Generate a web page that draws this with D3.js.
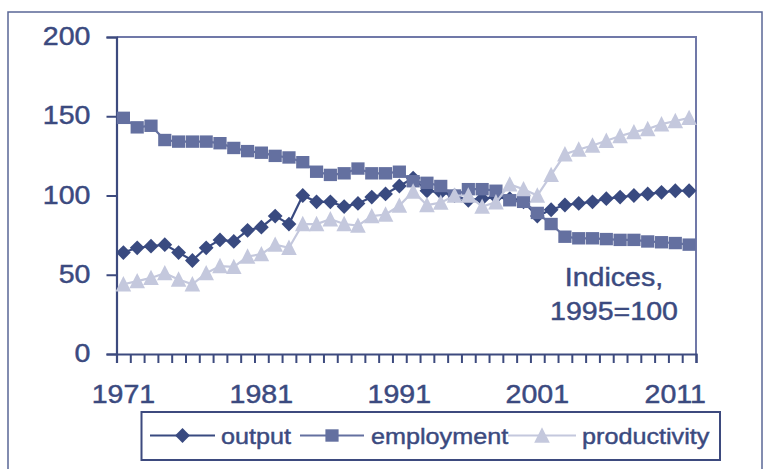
<!DOCTYPE html>
<html>
<head>
<meta charset="utf-8">
<script src="https://cdn.jsdelivr.net/npm/d3@7"></script>
<style>
  html, body { margin: 0; padding: 0; background: #fff; }
  svg { display: block; }
  text { font-family: "Liberation Sans", Arial, sans-serif; fill: #3b4a7f; stroke: #3b4a7f; stroke-width: 0.45px; }
</style>
</head>
<body>
<svg id="chart"></svg>
<script>
const width = 765;
const height = 469;

// 1971..2012, indices 1995=100
const years = d3.range(1971, 2013);
const output = [64, 67, 68, 69, 64, 59, 67, 72, 71, 78, 80, 87, 82, 100, 96, 96, 93, 95, 99, 101,
  106, 111, 103, 102, 100, 97, 98, 99, 98, 96, 87, 91, 94, 95, 96, 98, 99, 100, 101, 102, 103, 103];
const employment = [149, 143, 144, 135, 134, 134, 134, 133, 130, 128, 127, 125, 124, 121, 115, 113, 114, 117, 114, 114,
  115, 109, 108, 106, 100, 104, 104, 103, 97, 96, 89, 82, 74, 73, 73, 72.5, 72, 72, 71, 70.5, 70, 69];
const productivity = [44, 46, 48, 51, 47, 44, 51, 55.5, 55, 61.5, 63, 69, 67, 82, 82, 85, 82, 81, 87, 88,
  93.6, 102.5, 94, 95.5, 100, 100, 93, 95.7, 107, 104, 100, 113, 126, 129, 131.5, 134.5, 137.5, 140, 142, 145, 147, 149];
const yearLabels = [1971, 1981, 1991, 2001, 2011];
const yTicks = [0, 50, 100, 150, 200];

const series = [
  { name: 'output', values: output, color: '#394a80', shape: 'diamond' },
  { name: 'employment', values: employment, color: '#6470a0', shape: 'square' },
  { name: 'productivity', values: productivity, color: '#c4c8dd', shape: 'triangle' }
];

const plot = { left: 116.5, right: 696, top: 37, bottom: 354 };
const axisColor = '#3d4a7e';
const stretch = 1.12; // text in the source is a little wide

const svg = d3.select('#chart')
  .attr('width', width)
  .attr('height', height);

// outer frame
svg.append('rect')
  .attr('x', 8).attr('y', 12)
  .attr('width', 754).attr('height', 480)
  .attr('fill', 'none')
  .attr('stroke', '#5a6796')
  .attr('stroke-width', 1.5);

const x = d3.scaleLinear()
  .domain([years[0] - 0.5, years[years.length - 1] + 0.5])
  .range([plot.left, plot.right]);

const y = d3.scaleLinear()
  .domain([0, 200])
  .range([plot.bottom, plot.top]);

// top + right border of the plot area
svg.append('path')
  .attr('d', `M${plot.left},${y(200)}H${x.range()[1]}V${y(0)}`)
  .attr('fill', 'none')
  .attr('stroke', '#7078a8')
  .attr('stroke-width', 2);

// y axis
const yAxis = svg.append('g')
  .attr('transform', `translate(${plot.left},0)`)
  .call(d3.axisLeft(y).tickValues(yTicks).tickSize(10).tickFormat(''));

// x axis, a tick between every year
const xAxis = svg.append('g')
  .attr('transform', `translate(0,${plot.bottom})`)
  .call(d3.axisBottom(x)
    .tickValues(d3.range(years[0] - 0.5, years[years.length - 1] + 1))
    .tickSize(9)
    .tickFormat(''));

[yAxis, xAxis].forEach((g) => {
  g.select('.domain').attr('stroke', axisColor).attr('stroke-width', 2.2);
  g.selectAll('.tick line').attr('stroke', axisColor).attr('stroke-width', 2);
});

const label = (sel, tx, ty, str, size, anchor) => sel.append('text')
  .attr('transform', `translate(${tx},${ty}) scale(${stretch},1)`)
  .attr('text-anchor', anchor)
  .style('font-size', size + 'px')
  .text(str);

yTicks.forEach((v) => label(svg, plot.left - 26, y(v) + 8, v, 25.5, 'end'));
yearLabels.forEach((yr) => label(svg, x(yr), 403, yr, 25.5, 'middle'));

// note
label(svg, 614, 286, 'Indices,', 25.5, 'middle');
label(svg, 614, 320, '1995=100', 25.5, 'middle');

const markerPath = (shape) => {
  if (shape === 'diamond') return 'M0,-7.4L7.4,0L0,7.4L-7.4,0Z';
  if (shape === 'square') return 'M-6.6,-6.2H6.6V6.2H-6.6Z';
  return 'M0,-8.2L7.8,7.2L-7.8,7.2Z';
};

const line = d3.line()
  .x((d, i) => x(years[i]))
  .y((d) => y(d));

series.forEach((s) => {
  const g = svg.append('g');
  g.append('path')
    .attr('d', line(s.values))
    .attr('fill', 'none')
    .attr('stroke', s.color)
    .attr('stroke-width', 2.2);
  g.selectAll('path.mark')
    .data(s.values)
    .enter()
    .append('path')
      .attr('class', 'mark')
      .attr('transform', (d, i) => `translate(${x(years[i])},${y(d)})`)
      .attr('d', markerPath(s.shape))
      .attr('fill', s.color);
});

// legend
const legend = svg.append('g');
legend.append('rect')
  .attr('x', 141.5).attr('y', 412)
  .attr('width', 578.5).attr('height', 48)
  .attr('fill', '#fff')
  .attr('stroke', axisColor)
  .attr('stroke-width', 2);

const legendItems = [
  { x0: 150, x1: 215, tx: 221 },
  { x0: 300, x1: 364, tx: 371 },
  { x0: 508, x1: 576, tx: 582 }
];
const ly = 435.5;
series.forEach((s, i) => {
  const it = legendItems[i];
  legend.append('line')
    .attr('x1', it.x0).attr('x2', it.x1)
    .attr('y1', ly).attr('y2', ly)
    .attr('stroke', s.color)
    .attr('stroke-width', 2.2);
  legend.append('path')
    .attr('transform', `translate(${(it.x0 + it.x1) / 2},${ly})`)
    .attr('d', markerPath(s.shape))
    .attr('fill', s.color);
  label(legend, it.tx, ly + 8.5, s.name, 22.5, 'start');
});
</script>
</body>
</html>
